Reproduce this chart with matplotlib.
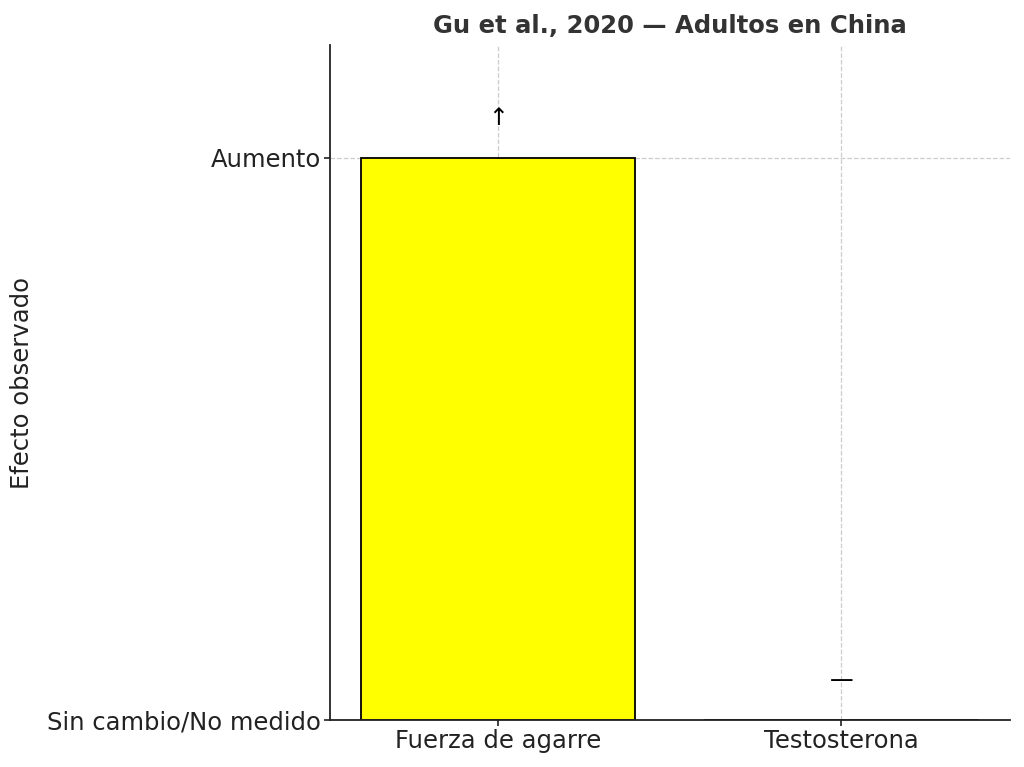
import matplotlib
matplotlib.use('Agg')
import matplotlib.pyplot as plt

categorias = ['Fuerza de agarre', 'Testosterona']
valores = [1, 0]
simbolos = ['↑', '—']
ytick_valores = [0, 1]
ytick_etiquetas = ['Sin cambio/No medido', 'Aumento']

fig, ax = plt.subplots(figsize=(10.24, 7.67), dpi=100)
x = range(len(categorias))
ax.bar(x, valores, color='yellow', edgecolor='black', linewidth=1.3, zorder=2)
for i, (v, s) in enumerate(zip(valores, simbolos)):
    ax.text(i, v + 0.05, s, ha='center', va='bottom', fontsize=17, color='black')

ax.set_xticks(list(x))
ax.set_xticklabels(categorias, fontsize=17.5, color='#222222')
ax.set_yticks(ytick_valores)
ax.set_yticklabels(ytick_etiquetas, fontsize=17.5, color='#222222')
ax.tick_params(length=4, width=1.2, pad=2.5, color='#222222')
ax.set_ylim(0, 1.2)
ax.set_ylabel('Efecto observado', fontsize=17.5, color='#222222', labelpad=9)
ax.set_title('Gu et al., 2020 — Adultos en China', fontsize=17.5, fontweight='bold',
             color='#333333', pad=9)
ax.grid(True, linestyle='--', color='#cccccc', linewidth=0.9, zorder=0)
ax.set_axisbelow(True)
ax.spines['top'].set_visible(False)
ax.spines['right'].set_visible(False)
ax.spines['left'].set_color('#222222')
ax.spines['bottom'].set_color('#222222')
ax.spines['left'].set_linewidth(1.3)
ax.spines['bottom'].set_linewidth(1.3)

plt.subplots_adjust(left=0.322, right=0.986, top=0.941, bottom=0.061)
plt.savefig('out.png', dpi=100)
